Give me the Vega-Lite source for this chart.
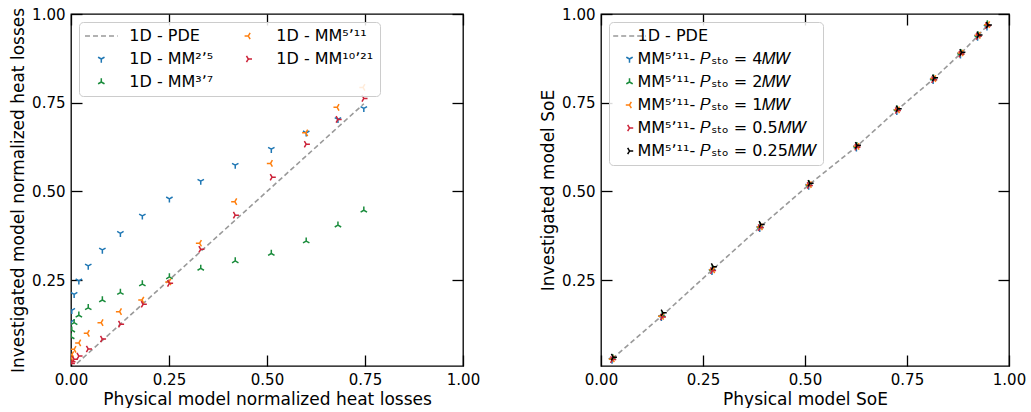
{
  "$schema": "https://vega.github.io/schema/vega-lite/v6.json",
  "padding": {"left": 8, "top": 6, "right": 5, "bottom": 0},
  "config": {
    "font": "DejaVu Sans",
    "view": {"stroke": "black", "strokeWidth": 1.3},
    "axis": {
      "grid": false, "domain": false, "tickColor": "black", "tickSize": -11, "tickWidth": 1.3,
      "labelFontSize": 15, "labelColor": "black", "labelPadding": 17, "labelFlush": false,
      "titleFontSize": 17, "titleFontWeight": "normal", "titleColor": "black"
    },
    "legend": {
      "orient": "top-left", "offset": 8, "title": null, "labelFontSize": 16, "labelColor": "black", "labelLimit": 400,
      "fillColor": "rgba(255,255,255,0.85)", "strokeColor": "#cccccc", "cornerRadius": 4, "padding": 6,
      "rowPadding": 7, "symbolStrokeWidth": 1.5, "symbolSize": 55
    }
  },
  "resolve": {
    "scale": {"x": "independent", "y": "independent", "color": "independent", "shape": "independent", "strokeDash": "independent"},
    "legend": {"color": "independent", "shape": "independent", "strokeDash": "independent"}
  },
  "spacing": 57,
  "hconcat": [
    {
      "width": 392, "height": 352,
      "resolve": {"axis": {"x": "independent", "y": "independent"}},
      "layer": [
        {
          "data": {"values": [
            {"x": 0, "y": 0, "s": "1D - PDE"},
            {"x": 0.747, "y": 0.747, "s": "1D - PDE"}
          ]},
          "mark": {"type": "line", "strokeWidth": 1.6, "clip": true},
          "encoding": {
            "x": {"field": "x", "type": "quantitative", "scale": {"domain": [0, 1], "nice": false},
              "axis": {"orient": "bottom", "values": [0, 0.25, 0.5, 0.75, 1], "format": ".2f", "title": "Physical model normalized heat losses"}},
            "y": {"field": "y", "type": "quantitative", "scale": {"domain": [0.008, 1], "nice": false, "zero": false},
              "axis": {"orient": "left", "values": [0.25, 0.5, 0.75, 1], "format": ".2f", "title": "Investigated model normalized heat losses"}},
            "color": {"field": "s", "type": "nominal",
              "scale": {"domain": ["1D - PDE", "1D - MM²ʼ⁵", "1D - MM³ʼ⁷", "1D - MM⁵ʼ¹¹", "1D - MM¹⁰ʼ²¹"],
                        "range": ["#999999", "#1f77b4", "#1a8c3c", "#ff7f0e", "#cc2238"]},
              "legend": {"columns": 2, "columnPadding": 18, "labelOffset": 20, "symbolOffset": 8.3}},
            "strokeDash": {"field": "s", "type": "nominal",
              "scale": {"domain": ["1D - PDE", "1D - MM²ʼ⁵", "1D - MM³ʼ⁷", "1D - MM⁵ʼ¹¹", "1D - MM¹⁰ʼ²¹"],
                        "range": [[5, 3], [1, 0], [1, 0], [1, 0], [1, 0]]}}
          }
        },
        {
          "data": {"values": [
            {"x": 0.747, "y": 0.734, "s": "1D - MM²ʼ⁵"},
            {"x": 0.681, "y": 0.703, "s": "1D - MM²ʼ⁵"},
            {"x": 0.600, "y": 0.665, "s": "1D - MM²ʼ⁵"},
            {"x": 0.511, "y": 0.619, "s": "1D - MM²ʼ⁵"},
            {"x": 0.419, "y": 0.574, "s": "1D - MM²ʼ⁵"},
            {"x": 0.331, "y": 0.529, "s": "1D - MM²ʼ⁵"},
            {"x": 0.251, "y": 0.479, "s": "1D - MM²ʼ⁵"},
            {"x": 0.182, "y": 0.431, "s": "1D - MM²ʼ⁵"},
            {"x": 0.126, "y": 0.382, "s": "1D - MM²ʼ⁵"},
            {"x": 0.080, "y": 0.335, "s": "1D - MM²ʼ⁵"},
            {"x": 0.044, "y": 0.290, "s": "1D - MM²ʼ⁵"},
            {"x": 0.020, "y": 0.248, "s": "1D - MM²ʼ⁵"},
            {"x": 0.008, "y": 0.210, "s": "1D - MM²ʼ⁵"},
            {"x": 0.002, "y": 0.165, "s": "1D - MM²ʼ⁵"},
            {"x": 0.0005, "y": 0.133, "s": "1D - MM²ʼ⁵"},
            {"x": 0.747, "y": 0.447, "s": "1D - MM³ʼ⁷"},
            {"x": 0.681, "y": 0.405, "s": "1D - MM³ʼ⁷"},
            {"x": 0.600, "y": 0.360, "s": "1D - MM³ʼ⁷"},
            {"x": 0.511, "y": 0.325, "s": "1D - MM³ʼ⁷"},
            {"x": 0.419, "y": 0.304, "s": "1D - MM³ʼ⁷"},
            {"x": 0.331, "y": 0.283, "s": "1D - MM³ʼ⁷"},
            {"x": 0.251, "y": 0.259, "s": "1D - MM³ʼ⁷"},
            {"x": 0.182, "y": 0.239, "s": "1D - MM³ʼ⁷"},
            {"x": 0.126, "y": 0.215, "s": "1D - MM³ʼ⁷"},
            {"x": 0.080, "y": 0.194, "s": "1D - MM³ʼ⁷"},
            {"x": 0.044, "y": 0.172, "s": "1D - MM³ʼ⁷"},
            {"x": 0.020, "y": 0.151, "s": "1D - MM³ʼ⁷"},
            {"x": 0.008, "y": 0.130, "s": "1D - MM³ʼ⁷"},
            {"x": 0.002, "y": 0.109, "s": "1D - MM³ʼ⁷"},
            {"x": 0.0005, "y": 0.090, "s": "1D - MM³ʼ⁷"},
            {"x": 0.745, "y": 0.793, "s": "1D - MM⁵ʼ¹¹"},
            {"x": 0.679, "y": 0.737, "s": "1D - MM⁵ʼ¹¹"},
            {"x": 0.599, "y": 0.665, "s": "1D - MM⁵ʼ¹¹"},
            {"x": 0.509, "y": 0.579, "s": "1D - MM⁵ʼ¹¹"},
            {"x": 0.418, "y": 0.471, "s": "1D - MM⁵ʼ¹¹"},
            {"x": 0.328, "y": 0.354, "s": "1D - MM⁵ʼ¹¹"},
            {"x": 0.250, "y": 0.245, "s": "1D - MM⁵ʼ¹¹"},
            {"x": 0.181, "y": 0.194, "s": "1D - MM⁵ʼ¹¹"},
            {"x": 0.124, "y": 0.161, "s": "1D - MM⁵ʼ¹¹"},
            {"x": 0.077, "y": 0.130, "s": "1D - MM⁵ʼ¹¹"},
            {"x": 0.042, "y": 0.100, "s": "1D - MM⁵ʼ¹¹"},
            {"x": 0.020, "y": 0.073, "s": "1D - MM⁵ʼ¹¹"},
            {"x": 0.008, "y": 0.055, "s": "1D - MM⁵ʼ¹¹"},
            {"x": 0.002, "y": 0.040, "s": "1D - MM⁵ʼ¹¹"},
            {"x": 0.0005, "y": 0.030, "s": "1D - MM⁵ʼ¹¹"},
            {"x": 0.747, "y": 0.762, "s": "1D - MM¹⁰ʼ²¹"},
            {"x": 0.681, "y": 0.703, "s": "1D - MM¹⁰ʼ²¹"},
            {"x": 0.600, "y": 0.633, "s": "1D - MM¹⁰ʼ²¹"},
            {"x": 0.513, "y": 0.540, "s": "1D - MM¹⁰ʼ²¹"},
            {"x": 0.419, "y": 0.433, "s": "1D - MM¹⁰ʼ²¹"},
            {"x": 0.331, "y": 0.337, "s": "1D - MM¹⁰ʼ²¹"},
            {"x": 0.251, "y": 0.241, "s": "1D - MM¹⁰ʼ²¹"},
            {"x": 0.184, "y": 0.182, "s": "1D - MM¹⁰ʼ²¹"},
            {"x": 0.126, "y": 0.126, "s": "1D - MM¹⁰ʼ²¹"},
            {"x": 0.080, "y": 0.084, "s": "1D - MM¹⁰ʼ²¹"},
            {"x": 0.044, "y": 0.056, "s": "1D - MM¹⁰ʼ²¹"},
            {"x": 0.020, "y": 0.036, "s": "1D - MM¹⁰ʼ²¹"},
            {"x": 0.008, "y": 0.027, "s": "1D - MM¹⁰ʼ²¹"},
            {"x": 0.002, "y": 0.020, "s": "1D - MM¹⁰ʼ²¹"},
            {"x": 0.0005, "y": 0.015, "s": "1D - MM¹⁰ʼ²¹"}
          ]},
          "mark": {"type": "point", "filled": false, "size": 55, "strokeWidth": 1.5, "opacity": 1, "clip": true},
          "encoding": {
            "x": {"field": "x", "type": "quantitative", "axis": null},
            "y": {"field": "y", "type": "quantitative", "axis": null},
            "color": {"field": "s", "type": "nominal"},
            "shape": {"field": "s", "type": "nominal",
              "scale": {"domain": ["1D - PDE", "1D - MM²ʼ⁵", "1D - MM³ʼ⁷", "1D - MM⁵ʼ¹¹", "1D - MM¹⁰ʼ²¹"],
                        "range": ["M-4.4,0L4.4,0", "M0,0L0,1M0,0L-0.866,-0.5M0,0L0.866,-0.5", "M0,0L0,-1M0,0L-0.866,0.5M0,0L0.866,0.5", "M0,0L-1,0M0,0L0.5,-0.866M0,0L0.5,0.866", "M0,0L1,0M0,0L-0.5,-0.866M0,0L-0.5,0.866"]}}
          }
        },
        {
          "data": {"values": [{"x": 0, "y": 0.5}]},
          "mark": {"type": "point", "opacity": 0},
          "encoding": {
            "x": {"field": "x", "type": "quantitative", "axis": {"orient": "top", "values": [0, 0.25, 0.5, 0.75, 1], "labels": false, "title": null}},
            "y": {"field": "y", "type": "quantitative", "axis": {"orient": "right", "values": [0.25, 0.5, 0.75, 1], "labels": false, "title": null}}
          }
        }
      ]
    },
    {
      "width": 408, "height": 352,
      "resolve": {"axis": {"x": "independent", "y": "independent"}},
      "layer": [
        {
          "data": {"values": [
            {"x": 0.028, "y": 0.029, "s": "1D - PDE"},
            {"x": 0.150, "y": 0.150, "s": "1D - PDE"},
            {"x": 0.273, "y": 0.279, "s": "1D - PDE"},
            {"x": 0.390, "y": 0.400, "s": "1D - PDE"},
            {"x": 0.510, "y": 0.519, "s": "1D - PDE"},
            {"x": 0.627, "y": 0.627, "s": "1D - PDE"},
            {"x": 0.726, "y": 0.730, "s": "1D - PDE"},
            {"x": 0.815, "y": 0.817, "s": "1D - PDE"},
            {"x": 0.882, "y": 0.889, "s": "1D - PDE"},
            {"x": 0.924, "y": 0.939, "s": "1D - PDE"},
            {"x": 0.947, "y": 0.968, "s": "1D - PDE"}
          ]},
          "mark": {"type": "line", "strokeWidth": 1.6, "clip": true},
          "encoding": {
            "x": {"field": "x", "type": "quantitative", "scale": {"domain": [0, 1], "nice": false},
              "axis": {"orient": "bottom", "values": [0, 0.25, 0.5, 0.75, 1], "format": ".2f", "title": "Physical model SoE"}},
            "y": {"field": "y", "type": "quantitative", "scale": {"domain": [0.008, 1], "nice": false, "zero": false},
              "axis": {"orient": "left", "values": [0.25, 0.5, 0.75, 1], "format": ".2f", "title": "Investigated model SoE"}},
            "color": {"field": "s", "type": "nominal",
              "scale": {"domain": ["1D - PDE", "MM⁵ʼ¹¹- 𝑃ₛₜₒ = 4𝑀𝑊", "MM⁵ʼ¹¹- 𝑃ₛₜₒ = 2𝑀𝑊", "MM⁵ʼ¹¹- 𝑃ₛₜₒ = 1𝑀𝑊", "MM⁵ʼ¹¹- 𝑃ₛₜₒ = 0.5𝑀𝑊", "MM⁵ʼ¹¹- 𝑃ₛₜₒ = 0.25𝑀𝑊"],
                        "range": ["#999999", "#1f77b4", "#1a8c3c", "#ff7f0e", "#cc2238", "#000000"]},
              "legend": {"labelOffset": 0, "symbolOffset": 6.5, "rowPadding": 7,
                "labelExpr": "datum.label === '1D - PDE' ? '\u00a0\u00a0\u00a0\u00a0\u00a01D - PDE' : datum.label"}},
            "strokeDash": {"field": "s", "type": "nominal",
              "scale": {"domain": ["1D - PDE", "MM⁵ʼ¹¹- 𝑃ₛₜₒ = 4𝑀𝑊", "MM⁵ʼ¹¹- 𝑃ₛₜₒ = 2𝑀𝑊", "MM⁵ʼ¹¹- 𝑃ₛₜₒ = 1𝑀𝑊", "MM⁵ʼ¹¹- 𝑃ₛₜₒ = 0.5𝑀𝑊", "MM⁵ʼ¹¹- 𝑃ₛₜₒ = 0.25𝑀𝑊"],
                        "range": [[5, 3], [1, 0], [1, 0], [1, 0], [1, 0], [1, 0]]}}
          }
        },
        {
          "data": {"values": [
            {"x": 0.027, "y": 0.025, "s": "MM⁵ʼ¹¹- 𝑃ₛₜₒ = 4𝑀𝑊"},
            {"x": 0.148, "y": 0.145, "s": "MM⁵ʼ¹¹- 𝑃ₛₜₒ = 4𝑀𝑊"},
            {"x": 0.272, "y": 0.275, "s": "MM⁵ʼ¹¹- 𝑃ₛₜₒ = 4𝑀𝑊"},
            {"x": 0.389, "y": 0.396, "s": "MM⁵ʼ¹¹- 𝑃ₛₜₒ = 4𝑀𝑊"},
            {"x": 0.509, "y": 0.515, "s": "MM⁵ʼ¹¹- 𝑃ₛₜₒ = 4𝑀𝑊"},
            {"x": 0.626, "y": 0.623, "s": "MM⁵ʼ¹¹- 𝑃ₛₜₒ = 4𝑀𝑊"},
            {"x": 0.725, "y": 0.726, "s": "MM⁵ʼ¹¹- 𝑃ₛₜₒ = 4𝑀𝑊"},
            {"x": 0.814, "y": 0.813, "s": "MM⁵ʼ¹¹- 𝑃ₛₜₒ = 4𝑀𝑊"},
            {"x": 0.881, "y": 0.885, "s": "MM⁵ʼ¹¹- 𝑃ₛₜₒ = 4𝑀𝑊"},
            {"x": 0.923, "y": 0.935, "s": "MM⁵ʼ¹¹- 𝑃ₛₜₒ = 4𝑀𝑊"},
            {"x": 0.946, "y": 0.964, "s": "MM⁵ʼ¹¹- 𝑃ₛₜₒ = 4𝑀𝑊"},
            {"x": 0.029, "y": 0.031, "s": "MM⁵ʼ¹¹- 𝑃ₛₜₒ = 2𝑀𝑊"},
            {"x": 0.150, "y": 0.152, "s": "MM⁵ʼ¹¹- 𝑃ₛₜₒ = 2𝑀𝑊"},
            {"x": 0.273, "y": 0.282, "s": "MM⁵ʼ¹¹- 𝑃ₛₜₒ = 2𝑀𝑊"},
            {"x": 0.390, "y": 0.402, "s": "MM⁵ʼ¹¹- 𝑃ₛₜₒ = 2𝑀𝑊"},
            {"x": 0.510, "y": 0.521, "s": "MM⁵ʼ¹¹- 𝑃ₛₜₒ = 2𝑀𝑊"},
            {"x": 0.627, "y": 0.629, "s": "MM⁵ʼ¹¹- 𝑃ₛₜₒ = 2𝑀𝑊"},
            {"x": 0.726, "y": 0.732, "s": "MM⁵ʼ¹¹- 𝑃ₛₜₒ = 2𝑀𝑊"},
            {"x": 0.815, "y": 0.819, "s": "MM⁵ʼ¹¹- 𝑃ₛₜₒ = 2𝑀𝑊"},
            {"x": 0.882, "y": 0.891, "s": "MM⁵ʼ¹¹- 𝑃ₛₜₒ = 2𝑀𝑊"},
            {"x": 0.924, "y": 0.941, "s": "MM⁵ʼ¹¹- 𝑃ₛₜₒ = 2𝑀𝑊"},
            {"x": 0.947, "y": 0.972, "s": "MM⁵ʼ¹¹- 𝑃ₛₜₒ = 2𝑀𝑊"},
            {"x": 0.028, "y": 0.028, "s": "MM⁵ʼ¹¹- 𝑃ₛₜₒ = 1𝑀𝑊"},
            {"x": 0.149, "y": 0.148, "s": "MM⁵ʼ¹¹- 𝑃ₛₜₒ = 1𝑀𝑊"},
            {"x": 0.274, "y": 0.279, "s": "MM⁵ʼ¹¹- 𝑃ₛₜₒ = 1𝑀𝑊"},
            {"x": 0.391, "y": 0.400, "s": "MM⁵ʼ¹¹- 𝑃ₛₜₒ = 1𝑀𝑊"},
            {"x": 0.511, "y": 0.519, "s": "MM⁵ʼ¹¹- 𝑃ₛₜₒ = 1𝑀𝑊"},
            {"x": 0.628, "y": 0.627, "s": "MM⁵ʼ¹¹- 𝑃ₛₜₒ = 1𝑀𝑊"},
            {"x": 0.727, "y": 0.730, "s": "MM⁵ʼ¹¹- 𝑃ₛₜₒ = 1𝑀𝑊"},
            {"x": 0.816, "y": 0.818, "s": "MM⁵ʼ¹¹- 𝑃ₛₜₒ = 1𝑀𝑊"},
            {"x": 0.883, "y": 0.890, "s": "MM⁵ʼ¹¹- 𝑃ₛₜₒ = 1𝑀𝑊"},
            {"x": 0.925, "y": 0.940, "s": "MM⁵ʼ¹¹- 𝑃ₛₜₒ = 1𝑀𝑊"},
            {"x": 0.948, "y": 0.970, "s": "MM⁵ʼ¹¹- 𝑃ₛₜₒ = 1𝑀𝑊"},
            {"x": 0.028, "y": 0.026, "s": "MM⁵ʼ¹¹- 𝑃ₛₜₒ = 0.5𝑀𝑊"},
            {"x": 0.150, "y": 0.146, "s": "MM⁵ʼ¹¹- 𝑃ₛₜₒ = 0.5𝑀𝑊"},
            {"x": 0.273, "y": 0.277, "s": "MM⁵ʼ¹¹- 𝑃ₛₜₒ = 0.5𝑀𝑊"},
            {"x": 0.390, "y": 0.398, "s": "MM⁵ʼ¹¹- 𝑃ₛₜₒ = 0.5𝑀𝑊"},
            {"x": 0.510, "y": 0.517, "s": "MM⁵ʼ¹¹- 𝑃ₛₜₒ = 0.5𝑀𝑊"},
            {"x": 0.627, "y": 0.625, "s": "MM⁵ʼ¹¹- 𝑃ₛₜₒ = 0.5𝑀𝑊"},
            {"x": 0.726, "y": 0.728, "s": "MM⁵ʼ¹¹- 𝑃ₛₜₒ = 0.5𝑀𝑊"},
            {"x": 0.815, "y": 0.815, "s": "MM⁵ʼ¹¹- 𝑃ₛₜₒ = 0.5𝑀𝑊"},
            {"x": 0.882, "y": 0.887, "s": "MM⁵ʼ¹¹- 𝑃ₛₜₒ = 0.5𝑀𝑊"},
            {"x": 0.924, "y": 0.937, "s": "MM⁵ʼ¹¹- 𝑃ₛₜₒ = 0.5𝑀𝑊"},
            {"x": 0.947, "y": 0.967, "s": "MM⁵ʼ¹¹- 𝑃ₛₜₒ = 0.5𝑀𝑊"},
            {"x": 0.030, "y": 0.033, "s": "MM⁵ʼ¹¹- 𝑃ₛₜₒ = 0.25𝑀𝑊"},
            {"x": 0.152, "y": 0.158, "s": "MM⁵ʼ¹¹- 𝑃ₛₜₒ = 0.25𝑀𝑊"},
            {"x": 0.275, "y": 0.288, "s": "MM⁵ʼ¹¹- 𝑃ₛₜₒ = 0.25𝑀𝑊"},
            {"x": 0.392, "y": 0.407, "s": "MM⁵ʼ¹¹- 𝑃ₛₜₒ = 0.25𝑀𝑊"},
            {"x": 0.512, "y": 0.523, "s": "MM⁵ʼ¹¹- 𝑃ₛₜₒ = 0.25𝑀𝑊"},
            {"x": 0.628, "y": 0.630, "s": "MM⁵ʼ¹¹- 𝑃ₛₜₒ = 0.25𝑀𝑊"},
            {"x": 0.728, "y": 0.733, "s": "MM⁵ʼ¹¹- 𝑃ₛₜₒ = 0.25𝑀𝑊"},
            {"x": 0.817, "y": 0.820, "s": "MM⁵ʼ¹¹- 𝑃ₛₜₒ = 0.25𝑀𝑊"},
            {"x": 0.884, "y": 0.892, "s": "MM⁵ʼ¹¹- 𝑃ₛₜₒ = 0.25𝑀𝑊"},
            {"x": 0.926, "y": 0.941, "s": "MM⁵ʼ¹¹- 𝑃ₛₜₒ = 0.25𝑀𝑊"},
            {"x": 0.949, "y": 0.969, "s": "MM⁵ʼ¹¹- 𝑃ₛₜₒ = 0.25𝑀𝑊"}
          ]},
          "mark": {"type": "point", "filled": false, "size": 55, "strokeWidth": 1.5, "opacity": 1, "clip": true},
          "encoding": {
            "x": {"field": "x", "type": "quantitative", "axis": null},
            "y": {"field": "y", "type": "quantitative", "axis": null},
            "color": {"field": "s", "type": "nominal"},
            "shape": {"field": "s", "type": "nominal",
              "scale": {"domain": ["1D - PDE", "MM⁵ʼ¹¹- 𝑃ₛₜₒ = 4𝑀𝑊", "MM⁵ʼ¹¹- 𝑃ₛₜₒ = 2𝑀𝑊", "MM⁵ʼ¹¹- 𝑃ₛₜₒ = 1𝑀𝑊", "MM⁵ʼ¹¹- 𝑃ₛₜₒ = 0.5𝑀𝑊", "MM⁵ʼ¹¹- 𝑃ₛₜₒ = 0.25𝑀𝑊"],
                        "range": ["M-4.4,0L4.4,0", "M0,0L0,1M0,0L-0.866,-0.5M0,0L0.866,-0.5", "M0,0L0,-1M0,0L-0.866,0.5M0,0L0.866,0.5", "M0,0L-1,0M0,0L0.5,-0.866M0,0L0.5,0.866", "M0,0L1,0M0,0L-0.5,-0.866M0,0L-0.5,0.866", "M0,0L1,0M0,0L-0.5,-0.866M0,0L-0.5,0.866"]}}
          }
        },
        {
          "data": {"values": [{"x": 0, "y": 0.5}]},
          "mark": {"type": "point", "opacity": 0},
          "encoding": {
            "x": {"field": "x", "type": "quantitative", "axis": {"orient": "top", "values": [0, 0.25, 0.5, 0.75, 1], "labels": false, "title": null}},
            "y": {"field": "y", "type": "quantitative", "axis": {"orient": "right", "values": [0.25, 0.5, 0.75, 1], "labels": false, "title": null}}
          }
        }
      ]
    }
  ]
}
